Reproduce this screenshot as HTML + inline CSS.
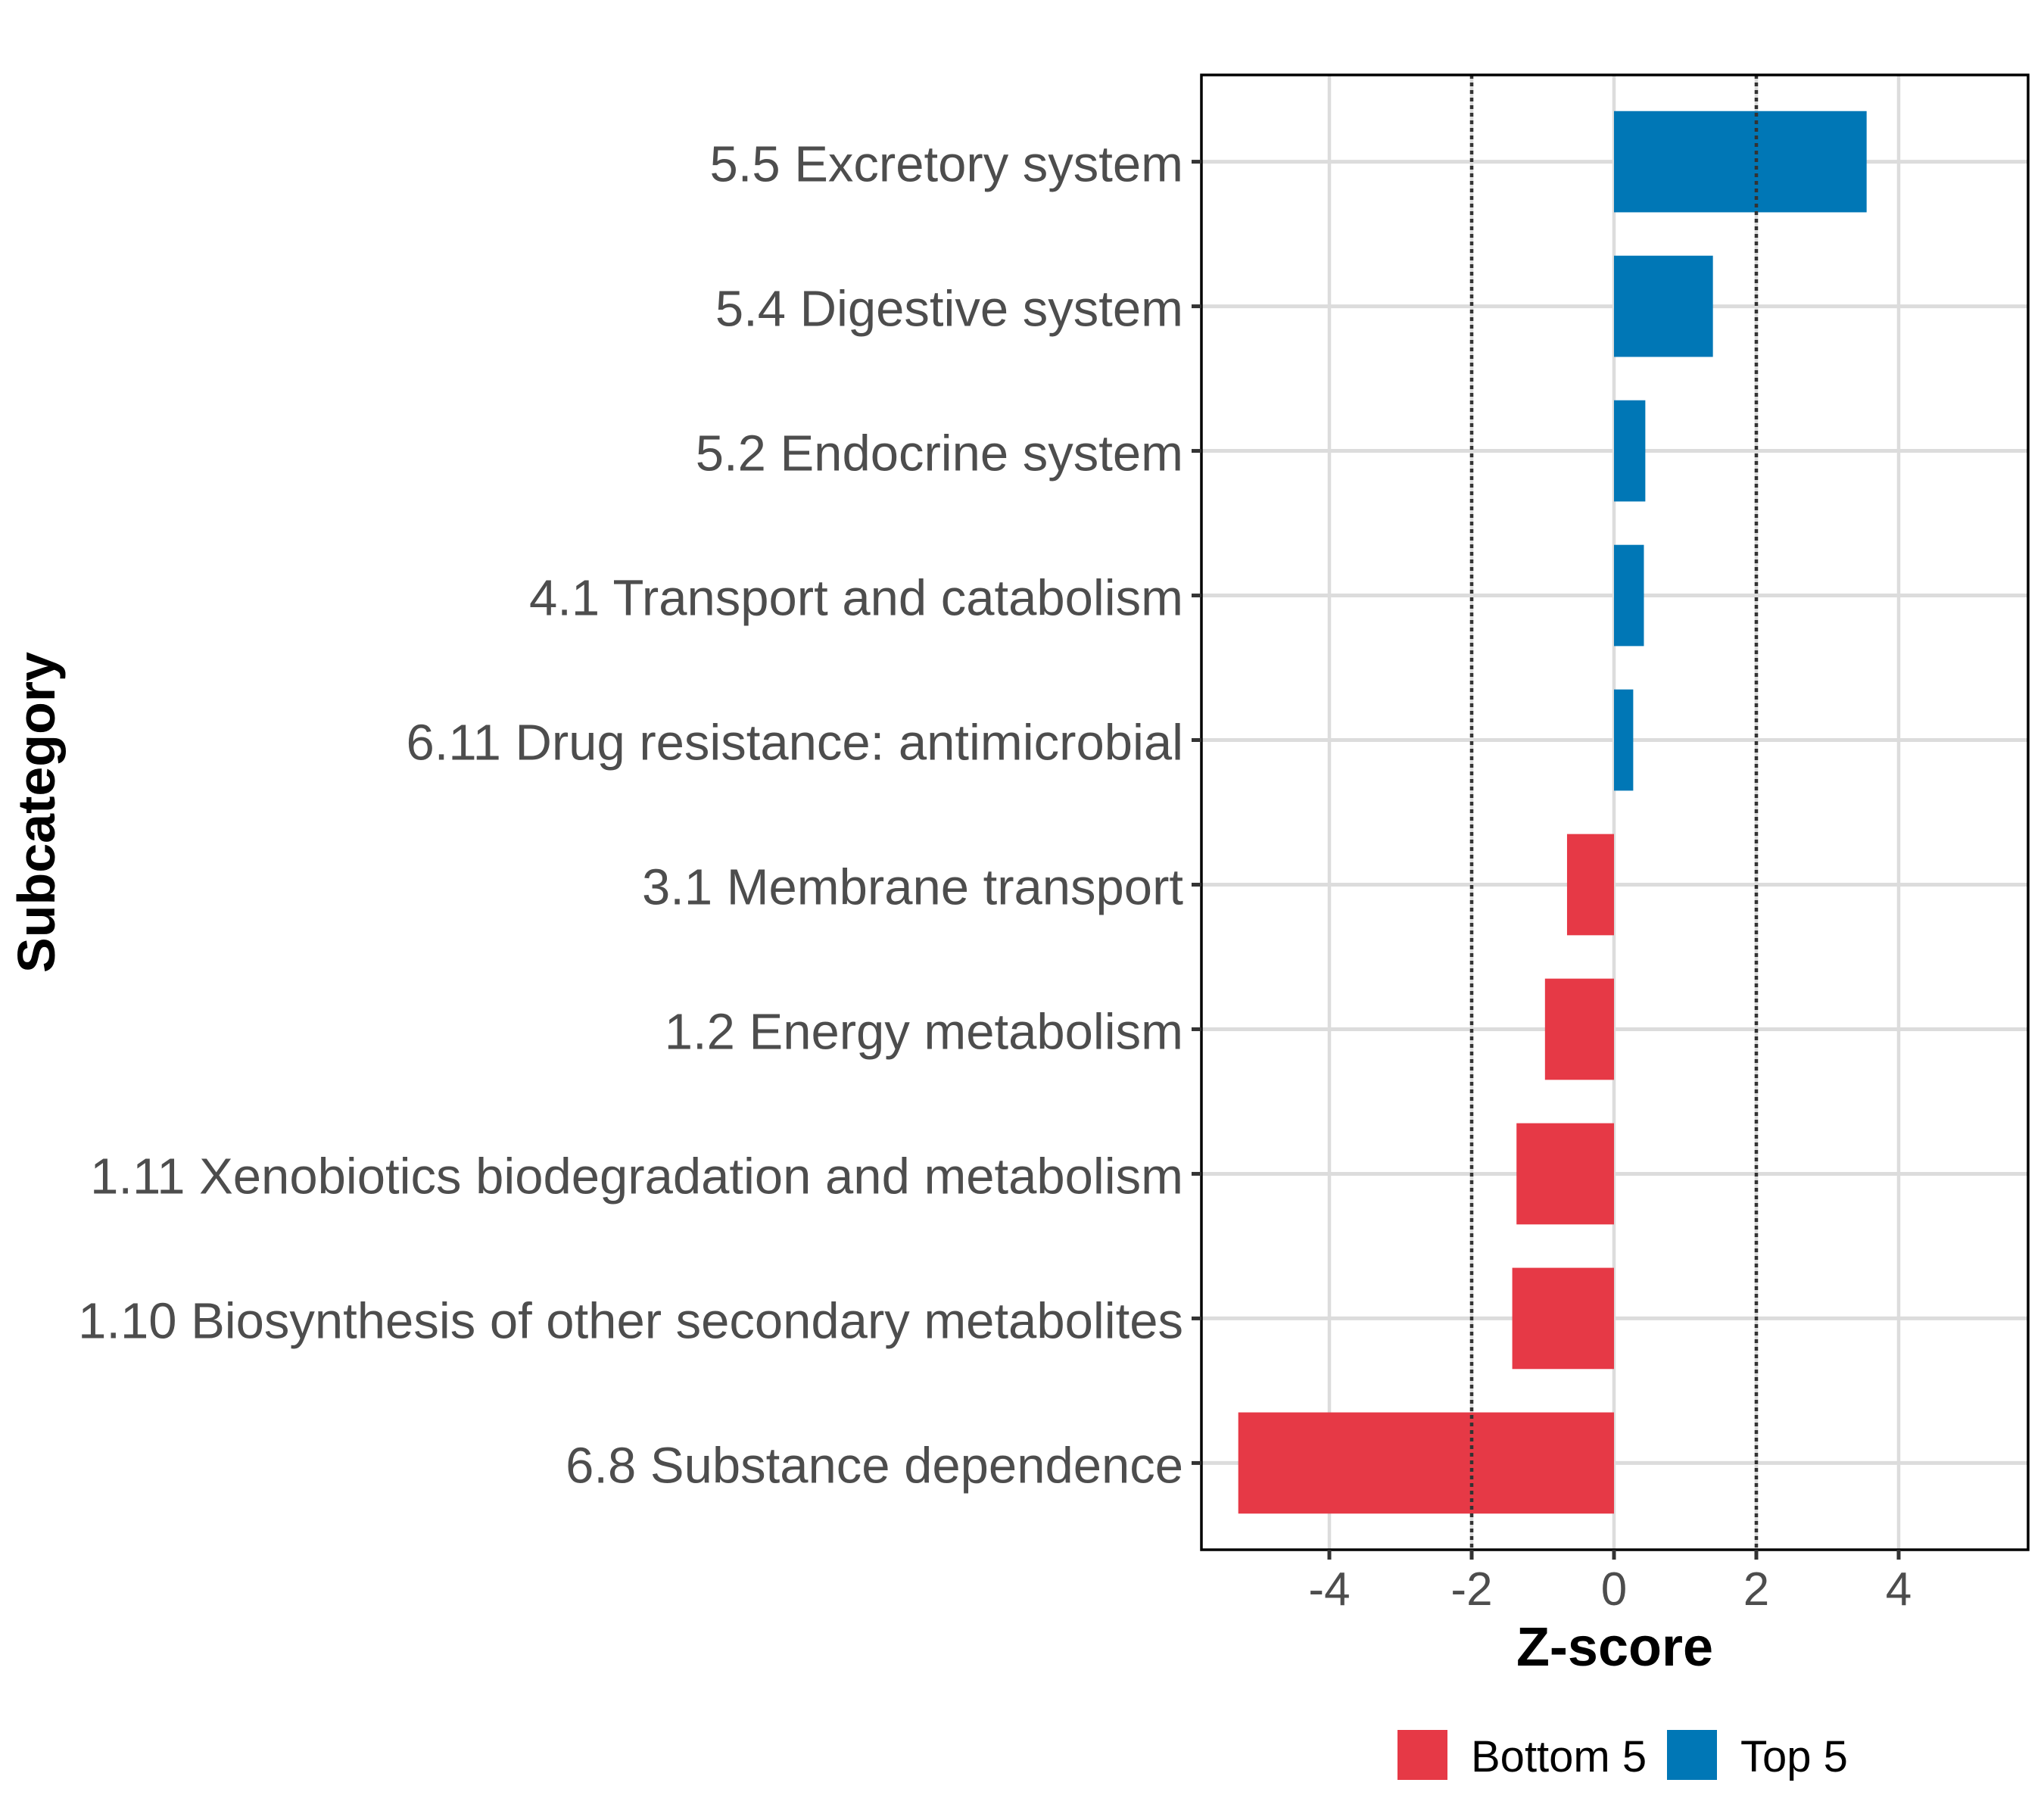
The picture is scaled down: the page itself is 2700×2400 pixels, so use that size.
<!DOCTYPE html>
<html><head><meta charset="utf-8"><style>
html,body{margin:0;padding:0;background:#fff;}
svg{display:block;font-family:"Liberation Sans",Arial,sans-serif;}
</style></head>
<body>
<svg id="chart" width="2700" height="2400" viewBox="0 0 2700 2400" xmlns="http://www.w3.org/2000/svg">
<rect width="2700" height="2400" fill="#fff"/>
<g id="grid"></g>
<g id="bars"></g>
<g id="refs"></g>
<rect x="1587" y="99" width="1092" height="1948" fill="none" stroke="#000" stroke-width="3.5"/>
<g id="axes"></g>
<text x="2133" y="2200" font-size="72" font-weight="bold" text-anchor="middle" fill="#000">Z-score</text>
<text transform="translate(72,1073) rotate(-90)" font-size="70" font-weight="bold" text-anchor="middle" fill="#000">Subcategory</text>
<g>
  <rect x="1846" y="2285" width="66" height="66" fill="#E63946"/>
  <text x="1943" y="2340" font-size="58" fill="#000">Bottom 5</text>
  <rect x="2202" y="2285" width="66" height="66" fill="#0077B6"/>
  <text x="2299" y="2340" font-size="58" fill="#000">Top 5</text>
</g>
</svg>
<script>
const categories = ["5.5 Excretory system","5.4 Digestive system","5.2 Endocrine system","4.1 Transport and catabolism","6.11 Drug resistance: antimicrobial","3.1 Membrane transport","1.2 Energy metabolism","1.11 Xenobiotics biodegradation and metabolism","1.10 Biosynthesis of other secondary metabolites","6.8 Substance dependence"];
const zscores = [3.55, 1.39, 0.44, 0.42, 0.27, -0.66, -0.97, -1.37, -1.43, -5.28];
const groups = ["Top 5","Top 5","Top 5","Top 5","Top 5","Bottom 5","Bottom 5","Bottom 5","Bottom 5","Bottom 5"];
const xTicks = [-4, -2, 0, 2, 4];
const xTickLabels = ["-4","-2","0","2","4"];
const refLines = [-2, 2];

const NS = "http://www.w3.org/2000/svg";
const P = {l:1587, r:2679, t:99, b:2047};
const X0 = 2132, UNIT = 94;
function xs(v){ return X0 + v*UNIT; }
const n = categories.length;
const bandU = (P.b-P.t)/(n-1+1.2);
function ys(i){ return P.t + (0.6 + i)*bandU; }
const colors = {"Top 5":"#0077B6","Bottom 5":"#E63946"};
function mk(tag, attrs, parent){ const e=document.createElementNS(NS,tag); for(const k in attrs) e.setAttribute(k, attrs[k]); parent.appendChild(e); return e; }

const grid = document.getElementById('grid');
const bars = document.getElementById('bars');
const refs = document.getElementById('refs');
const axes = document.getElementById('axes');

xTicks.forEach((t,i)=>{
  const g = mk('line',{x1:xs(t),x2:xs(t),y1:P.t,y2:P.b,stroke:'#DCDCDC','stroke-width':4.5},grid);
  
  
  const tk = mk('line',{x1:xs(t),x2:xs(t),y1:P.b,y2:P.b+13,stroke:'#333','stroke-width':5},axes);
  
  
  const lb = mk('text',{x:xs(t),y:2120,'font-size':62,'text-anchor':'middle',fill:'#4D4D4D'},axes);
  lb.textContent = xTickLabels[i];
  
  
});
categories.forEach((c,i)=>{
  const y = ys(i);
  const g = mk('line',{x1:P.l,x2:P.r,y1:y,y2:y,stroke:'#DCDCDC','stroke-width':5},grid);
  
  
  const v = zscores[i];
  const bw = 0.7*bandU;
  const b = mk('rect',{x:Math.min(xs(0),xs(v)),y:y-bw/2,width:Math.abs(xs(v)-xs(0)),height:bw,fill:colors[groups[i]]},bars);
  
  
  const tk = mk('line',{x1:P.l-13,x2:P.l,y1:y,y2:y,stroke:'#333','stroke-width':5},axes);
  
  
  const lb = mk('text',{x:P.l-24,y:y+26,'font-size':67,'text-anchor':'end',fill:'#4D4D4D'},axes);
  lb.textContent = c;
  
  
});
refLines.forEach(r=>{
  const l = mk('line',{x1:xs(r),x2:xs(r),y1:P.t,y2:P.b,stroke:'#333','stroke-width':4.5,'stroke-dasharray':'5,5'},refs);
  
  
});
</script>
</body></html>
